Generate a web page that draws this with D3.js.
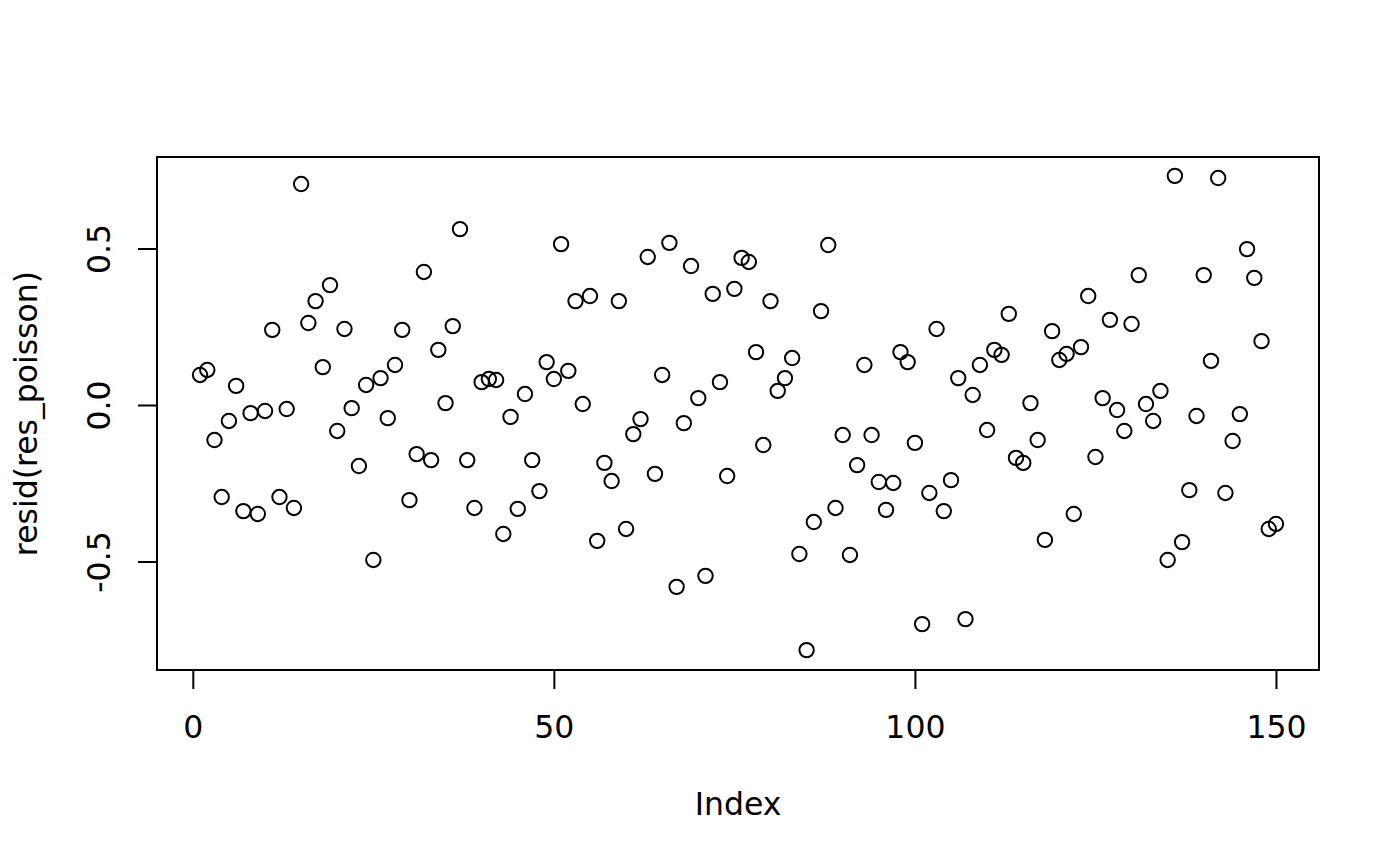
<!DOCTYPE html>
<html>
<head>
<meta charset="utf-8">
<script src="https://cdn.jsdelivr.net/npm/d3@7"></script>
<style>
  html, body { margin: 0; padding: 0; background: #fff; }
  svg { display: block; }
  text { font-family: "DejaVu Sans", sans-serif; fill: #000; }
</style>
</head>
<body>
<svg id="chart" width="1400" height="866"></svg>
<script>
const residuals = [
  0.096, 0.112, -0.112, -0.294, -0.051, 0.061, -0.339, -0.026, -0.348, -0.019,
  0.240, -0.294, -0.013, -0.329, 0.706, 0.262, 0.332, 0.121, 0.383, -0.083,
  0.243, -0.010, -0.195, 0.064, -0.495, 0.086, -0.042, 0.128, 0.240, -0.304,
  -0.157, 0.425, -0.176, 0.176, 0.006, 0.252, 0.562, -0.176, -0.329, 0.073,
  0.083, 0.080, -0.412, -0.038, -0.332, 0.035, -0.176, -0.275, 0.137, 0.083,
  0.514, 0.109, 0.332, 0.003, 0.348, -0.434, -0.185, -0.243, 0.332, -0.396,
  -0.093, -0.045, 0.473, -0.220, 0.096, 0.518, -0.581, -0.058, 0.444, 0.022,
  -0.546, 0.355, 0.073, -0.227, 0.371, 0.470, 0.457, 0.169, -0.128, 0.332,
  0.045, 0.086, 0.150, -0.476, -0.783, -0.374, 0.300, 0.511, -0.329, -0.096,
  -0.479, -0.192, 0.128, -0.096, -0.246, -0.335, -0.249, 0.169, 0.137, -0.121,
  -0.700, -0.281, 0.243, -0.339, -0.240, 0.086, -0.684, 0.032, 0.128, -0.080,
  0.176, 0.160, 0.291, -0.169, -0.185, 0.006, -0.112, -0.431, 0.236, 0.144,
  0.163, -0.348, 0.185, 0.348, -0.166, 0.022, 0.272, -0.016, -0.083, 0.259,
  0.415, 0.003, -0.051, 0.045, -0.495, 0.732, -0.438, -0.272, -0.035, 0.415,
  0.141, 0.725, -0.281, -0.115, -0.029, 0.498, 0.406, 0.204, -0.396, -0.380
];
const xTicks = [0, 50, 100, 150];
const yTicks = [-0.5, 0.0, 0.5];
const yTickLabels = ["-0.5", "0.0", "0.5"];
const xTitle = "Index";
const yTitle = "resid(res_poisson)";

(function () {
  const svg = d3.select("#chart");
  const pLeft = 157, pRight = 1319, pTop = 157, pBottom = 670;
  const fs = 31.5;
  const n = residuals.length;
  const padX = (n - 1) * 0.04;

  const x = d3.scaleLinear().domain([1 - padX, n + padX]).range([pLeft, pRight]);
  const y = d3.scaleLinear().domain([-0.8466, 0.7923]).range([pBottom, pTop]);

  // frame
  svg.append("rect")
    .attr("x", pLeft).attr("y", pTop)
    .attr("width", pRight - pLeft).attr("height", pBottom - pTop)
    .attr("fill", "none").attr("stroke", "#000").attr("stroke-width", 2);

  // x axis
  const xAxis = svg.append("g").attr("transform", `translate(0,${pBottom})`)
    .call(d3.axisBottom(x).tickValues(xTicks).tickSize(19).tickFormat(d3.format("d")));
  xAxis.select(".domain").attr("d", `M${x(xTicks[0])},0H${x(xTicks[xTicks.length - 1])}`).attr("stroke-width", 2);
  xAxis.selectAll(".tick line").attr("stroke-width", 2);
  xAxis.selectAll(".tick text").attr("font-size", fs).attr("font-family", "DejaVu Sans").attr("dy", null).attr("y", 68);

  // y axis
  const yAxis = svg.append("g").attr("transform", `translate(${pLeft},0)`)
    .call(d3.axisLeft(y).tickValues(yTicks).tickSize(19).tickFormat((d, i) => yTickLabels[i]));
  yAxis.select(".domain").attr("d", `M0,${y(yTicks[0])}V${y(yTicks[yTicks.length - 1])}`).attr("stroke-width", 2);
  yAxis.selectAll(".tick line").attr("stroke-width", 2);
  yAxis.selectAll(".tick text")
    .attr("font-size", fs).attr("font-family", "DejaVu Sans")
    .attr("x", null).attr("dy", null)
    .attr("text-anchor", "middle")
    .attr("transform", "translate(-47,0) rotate(-90)");

  // titles
  svg.append("text")
    .attr("x", (pLeft + pRight) / 2).attr("y", 815)
    .attr("text-anchor", "middle").attr("font-size", fs)
    .text(xTitle);
  svg.append("text")
    .attr("transform", `translate(37,${(pTop + pBottom) / 2}) rotate(-90)`)
    .attr("text-anchor", "middle").attr("font-size", fs)
    .text(yTitle);

  // points
  svg.append("g").selectAll("circle")
    .data(residuals)
    .join("circle")
    .attr("cx", (d, i) => x(i + 1))
    .attr("cy", d => y(d))
    .attr("r", 7.2)
    .attr("fill", "none")
    .attr("stroke", "#000")
    .attr("stroke-width", 2);
})();
</script>
</body>
</html>
